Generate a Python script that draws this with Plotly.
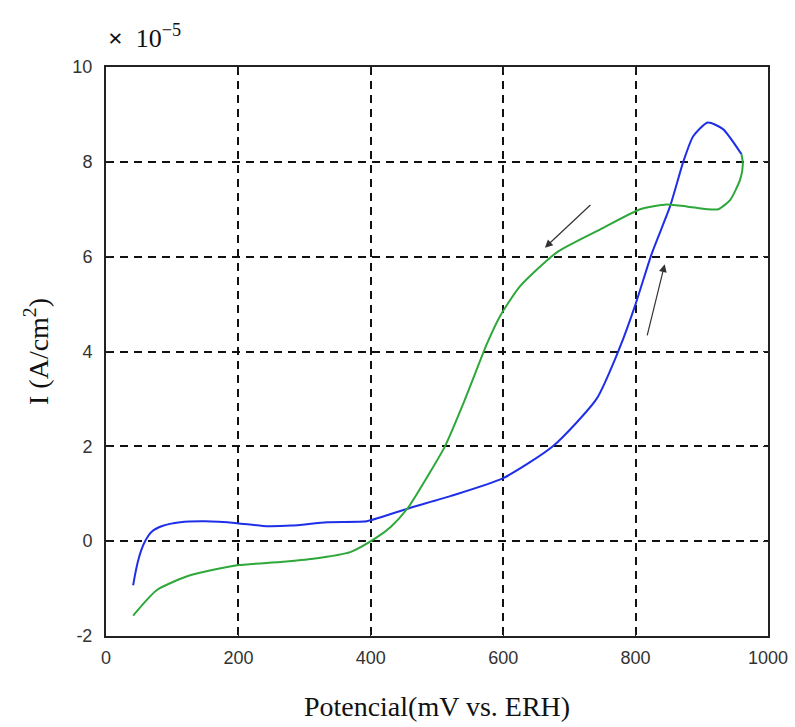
import plotly.graph_objects as go

# Anodic (forward) sweep - blue
blue_x = [41, 44, 48, 53, 59, 69, 85, 112, 150, 198, 237, 280, 334, 394, 414, 459, 520, 600, 675, 741, 776, 800, 824, 852, 872, 887, 909, 932, 960]
blue_y = [-0.93, -0.7, -0.44, -0.2, 0.0, 0.2, 0.32, 0.4, 0.42, 0.38, 0.32, 0.33, 0.4, 0.42, 0.5, 0.7, 0.95, 1.33, 2.0, 3.0, 4.08, 5.0, 6.05, 7.06, 8.0, 8.54, 8.83, 8.69, 8.16]

# Cathodic (reverse) sweep - green
green_x = [960, 962, 958, 943, 925, 908, 877, 847, 807, 746, 681, 625, 595, 575, 558, 542, 512, 485, 456, 430, 409, 369, 313, 263, 198, 127, 77, 41]
green_y = [8.16, 7.95, 7.63, 7.2, 7.0, 7.0, 7.06, 7.1, 7.0, 6.57, 6.09, 5.37, 4.74, 4.15, 3.55, 2.98, 2.0, 1.35, 0.7, 0.3, 0.08, -0.23, -0.37, -0.44, -0.51, -0.72, -1.03, -1.57]

x_ticks = [0, 200, 400, 600, 800, 1000]
y_ticks = [-2, 0, 2, 4, 6, 8, 10]

# arrows: (tail_x, tail_y, head_x, head_y)
arrow_rev = (734, 7.12, 663, 6.19)
arrow_fwd = (817, 4.31, 844, 5.84)

SERIF = "Liberation Serif, Times New Roman, serif"

fig = go.Figure()
fig.add_trace(go.Scatter(x=blue_x, y=blue_y, mode="lines",
                         line=dict(color="#1f2fe8", width=2, shape="spline", smoothing=0.6),
                         showlegend=False))
fig.add_trace(go.Scatter(x=green_x, y=green_y, mode="lines",
                         line=dict(color="#2ea83a", width=2, shape="spline", smoothing=0.6),
                         showlegend=False))

for tx, ty, hx, hy in (arrow_rev, arrow_fwd):
    fig.add_annotation(x=hx, y=hy, ax=tx, ay=ty, xref="x", yref="y", axref="x", ayref="y",
                       showarrow=True, arrowhead=2, arrowsize=1.3, arrowwidth=1.2,
                       arrowcolor="#333333", text="")

fig.add_annotation(xref="paper", yref="paper", x=0.0, y=1.0, xanchor="left", yanchor="bottom",
                   yshift=12, showarrow=False,
                   text="<b>×</b>  10<sup>−5</sup>",
                   font=dict(family=SERIF, size=26, color="#111"))

axis_common = dict(showline=True, linecolor="#222", linewidth=2, mirror="ticks",
                   ticks="inside", ticklen=5, tickcolor="#222",
                   showgrid=True, gridcolor="#111", gridwidth=1.5, griddash="8px,6px",
                   zeroline=False, automargin=False,
                   tickfont=dict(family="Liberation Sans, Arial, sans-serif", size=18, color="#333"))

fig.update_xaxes(range=[0, 1000], tickvals=x_ticks, ticktext=[str(v) for v in x_ticks],
                 ticklabelstandoff=4,
                 title=dict(text="Potencial(mV vs. ERH)", standoff=30,
                            font=dict(family=SERIF, size=28, color="#111")),
                 **axis_common)
fig.update_yaxes(range=[-2, 10], tickvals=y_ticks, ticktext=[str(v) for v in y_ticks],
                 ticklabelstandoff=8,
                 title=dict(text="I (A/cm<sup>2</sup>)", standoff=16,
                            font=dict(family=SERIF, size=28, color="#111")),
                 **axis_common)

fig.update_layout(width=795, height=727, margin=dict(l=106, r=27, t=67, b=91),
                  plot_bgcolor="white", paper_bgcolor="white")

fig.write_html("out.html")
